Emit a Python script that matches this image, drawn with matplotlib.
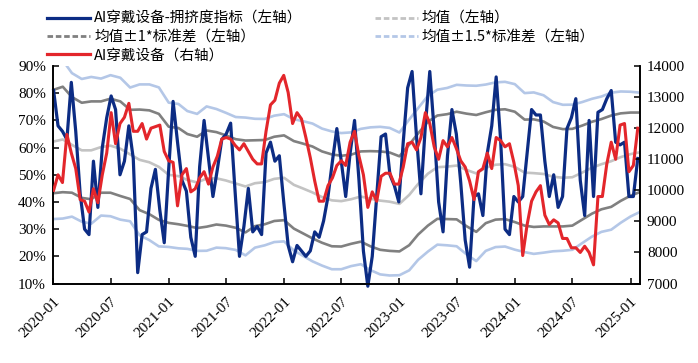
import pandas as pd
import numpy as np
import matplotlib.pyplot as plt
from matplotlib.lines import Line2D

# ---- data ----
# biweekly series
crowd_pct = [81, 68, 66, 63, 84, 66, 43, 30, 28, 55,
             38, 60, 71, 79, 74, 50, 55, 68, 56, 14,
             28, 29, 45, 52, 37, 25, 52, 77, 62, 48,
             44, 27, 20, 53, 70, 56, 42, 52, 63, 65,
             69, 44, 20, 31, 45, 29, 31, 28, 58, 62,
             55, 57, 40, 24, 18, 24, 22, 20, 22, 29,
             27, 33, 42, 55, 67, 55, 42, 58, 70, 48,
             22, 9, 20, 42, 64, 65, 50, 46, 40, 62,
             82, 88, 64, 43, 68, 88, 66, 40, 29, 57,
             74, 65, 47, 26, 16, 42, 43, 35, 58, 68,
             86, 63, 30, 28, 42, 40, 42, 58, 74, 72,
             72, 55, 42, 50, 38, 42, 67, 71, 78, 48,
             35, 70, 42, 73, 74, 78, 81, 62, 61, 62,
             42, 42, 56]

price_idx = [10000, 10500, 10250, 11800, 11200, 10700, 9700, 9650, 9300, 10050,
             9600, 10500, 11200, 12500, 11500, 12150, 12350, 12800, 11900, 11900,
             12150, 11650, 12000, 12050, 12100, 11250, 10950, 10900, 9500, 10500,
             10700, 9950, 10050, 10400, 10600, 10200, 10750, 11100, 11650, 11700,
             11650, 11450, 11300, 11500, 11250, 11000, 10850, 10850, 11900, 12750,
             12900, 13450, 13700, 13150, 12150, 12500, 12300, 11700, 11050, 10300,
             9650, 9650, 10150, 10400, 10800, 10950, 10800, 11550, 11900, 11100,
             10500, 9450, 9950, 9650, 10450, 10550, 10550, 10200, 10200, 10750,
             11500, 11550, 11300, 11700, 12500, 12150, 11400, 11000, 11600, 11400,
             11700, 11350, 10950, 10750, 10300, 9700, 10600, 10700, 11200, 10700,
             11700, 11600, 11400, 11500, 10900, 10150, 7900, 8900, 9650, 9950,
             10150, 9200, 8900, 9050, 8950, 8450, 8450, 8150, 8150, 8000,
             8200, 8000, 7600, 9800, 9800, 10850, 11550, 11000, 12100, 12150,
             10600, 10800, 12000]

# monthly rolling mean / std of the crowding index
roll_mean = [62.2, 63.0, 61.0, 59.0, 59.0, 60.2, 60.7, 59.6, 57.5, 55.5,
             54.6, 52.9, 50.0, 49.5, 48.1, 47.2, 48.6, 48.7, 47.9, 46.8,
             45.7, 46.9, 47.3, 48.5, 48.9, 46.3, 45.0, 43.5, 41.8, 40.6,
             40.3, 41.0, 42.0, 41.2, 40.5, 40.1, 39.3, 42.6, 46.6, 50.4,
             52.8, 53.0, 53.4, 51.8, 50.5, 52.6, 53.7, 53.9, 52.9, 50.8,
             50.6, 50.3, 49.3, 48.9, 49.1, 50.8, 52.6, 53.9, 55.0, 56.5,
             57.6, 58.3]
roll_std = [19.0, 19.4, 17.6, 17.5, 18.0, 16.8, 17.3, 17.4, 16.4, 18.5,
            19.1, 19.5, 17.7, 17.7, 16.9, 16.8, 17.7, 17.0, 16.6, 16.3,
            16.9, 15.8, 15.5, 15.5, 15.6, 16.1, 16.5, 16.9, 16.8, 16.9,
            16.7, 16.4, 16.6, 17.5, 18.1, 18.1, 17.5, 18.5, 18.6, 19.1,
            19.0, 19.3, 19.8, 20.7, 21.5, 20.4, 20.2, 20.2, 20.3, 19.5,
            19.8, 19.3, 18.3, 17.9, 17.8, 17.3, 16.9, 16.6, 16.8, 16.1,
            15.3, 14.6]

week_dates = pd.date_range('2020-01-03', periods=len(crowd_pct), freq='14D')
month_dates = pd.date_range('2020-01-01', periods=len(roll_mean), freq='MS')
tick_dates = pd.date_range('2020-01-01', '2025-01-01', freq='6MS')

mean = np.array(roll_mean)
std = np.array(roll_std)

# colours
C_BLUE = '#0c2c84'
C_RED = '#e3262b'
C_DGRAY = '#808080'
C_LGRAY = '#c3c3c3'
C_LBLUE = '#b4c7e7'

cjk = ['Noto Sans CJK SC', 'DejaVu Sans']
serif = 'Liberation Serif'

fig = plt.figure(figsize=(6.98, 3.63), dpi=100)
ax = fig.add_axes([0.0759, 0.219, 0.841, 0.599])
ax2 = ax.twinx()

lw_band = 1.9
ax.plot(month_dates, mean + 1.5 * std, color=C_LBLUE, lw=lw_band, zorder=1)
ax.plot(month_dates, mean - 1.5 * std, color=C_LBLUE, lw=lw_band, zorder=1)
ax.plot(month_dates, mean + std, color=C_DGRAY, lw=lw_band, zorder=2)
ax.plot(month_dates, mean - std, color=C_DGRAY, lw=lw_band, zorder=2)
ax.plot(month_dates, mean, color=C_LGRAY, lw=lw_band, zorder=2)
ax.plot(week_dates, crowd_pct, color=C_BLUE, lw=2.3, zorder=3, clip_on=False)

ax2.plot(week_dates, price_idx, color=C_RED, lw=2.2, zorder=3)

ax.set_ylim(10, 90)
ax.set_yticks(range(10, 91, 10))
ax.set_yticklabels([f'{v}%' for v in range(10, 91, 10)])
ax2.set_ylim(7000, 14000)
ax2.set_yticks(range(7000, 14001, 1000))

ax.set_xlim(pd.Timestamp('2020-01-01'), pd.Timestamp('2025-01-31'))
ax.set_xticks(tick_dates)
ax.set_xticklabels([d.strftime('%Y-%m') for d in tick_dates], rotation=45,
                   ha='right', va='top', rotation_mode='anchor')

for a in (ax, ax2):
    a.spines['top'].set_visible(False)
    for s in a.spines.values():
        s.set_linewidth(1.2)
    a.tick_params(direction='in', length=4, width=1.1, labelsize=11)
    for lab in a.get_xticklabels() + a.get_yticklabels():
        lab.set_fontfamily(serif)
ax.tick_params(axis='x', pad=8)
ax.tick_params(axis='y', pad=5)
ax2.tick_params(axis='y', pad=5)

# legend (dashed handles as in the original)
handles = [
    Line2D([], [], color=C_BLUE, lw=2.3),
    Line2D([], [], color=C_DGRAY, lw=2, ls=(0, (2, 1))),
    Line2D([], [], color=C_RED, lw=2.3),
    Line2D([], [], color=C_LGRAY, lw=2, ls=(0, (2, 1))),
    Line2D([], [], color=C_LBLUE, lw=2, ls=(0, (2, 1))),
]
labels = ['AI穿戴设备-拥挤度指标（左轴）', '均值±1*标准差（左轴）', 'AI穿戴设备（右轴）',
          '均值（左轴）', '均值±1.5*标准差（左轴）']
fig.legend(handles, labels, loc='upper left', bbox_to_anchor=(0.049, 1.004), ncol=2,
           frameon=False, prop={'family': cjk, 'size': 10.5}, handlelength=2.9,
           handletextpad=0.3, labelspacing=0.3, columnspacing=5.0)

fig.savefig('out.png', dpi=100)
